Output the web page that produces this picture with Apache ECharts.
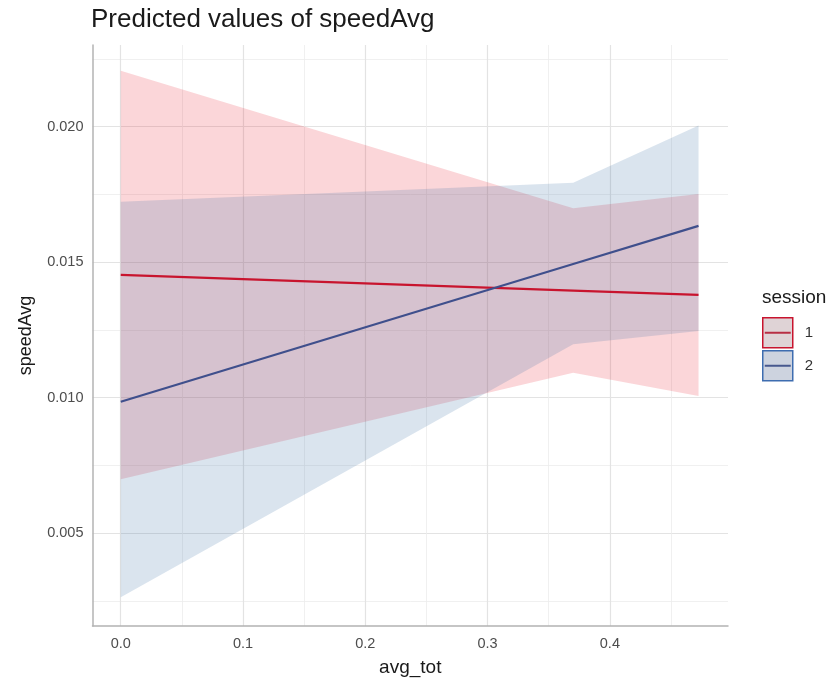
<!DOCTYPE html>
<html>
<head>
<meta charset="utf-8">
<script src="https://cdn.jsdelivr.net/npm/echarts@6/dist/echarts.min.js"></script>
<style>
  html, body { margin: 0; padding: 0; background: #fff; }
  #chart { width: 839px; height: 684px; }
</style>
</head>
<body>
<div id="chart"></div>
<script>
// predicted values
const avgTot = [0, 0.37, 0.4725];
const fit1 = [0.01453, 0.01395, 0.01379];
const low1 = [0.00699, 0.01092, 0.01006];
const high1 = [0.02206, 0.01699, 0.01751];
const fit2 = [0.00985, 0.01493, 0.01634];
const low2 = [0.00264, 0.01197, 0.01246];
const high2 = [0.01723, 0.01793, 0.02004];

// ticks
const xTicks = [0, 0.1, 0.2, 0.3, 0.4];
const xMinor = [0.05, 0.15, 0.25, 0.35, 0.45];
const yTicks = [0.005, 0.01, 0.015, 0.02];
const yMinor = [0.0025, 0.0075, 0.0125, 0.0175, 0.0225];

const red = "#C8142E";
const blue = "#3F4F8C";
const font = "'Liberation Sans', Arial, sans-serif";

const myChart = echarts.init(document.getElementById("chart"));

// confidence band as one polygon
function band(name, lo, hi, fill) {
  return {
    name: name,
    type: "custom",
    data: avgTot.map((x, i) => [x, lo[i], hi[i]]),
    encode: { x: 0, y: [1, 2] },
    silent: true,
    renderItem: (params, api) => {
      if (params.dataIndex !== 0) return;
      const n = avgTot.length;
      const pts = [];
      for (let i = 0; i < n; i++) pts.push(api.coord([api.value(0, i), api.value(2, i)]));
      for (let i = n - 1; i >= 0; i--) pts.push(api.coord([api.value(0, i), api.value(1, i)]));
      return { type: "polygon", shape: { points: pts }, style: { fill: fill } };
    },
  };
}

function fitLine(name, ys, color) {
  return {
    name: name,
    type: "line",
    data: avgTot.map((x, i) => [x, ys[i]]),
    symbol: "rect",
    showSymbol: false,
    lineStyle: { color: color, width: 2.2 },
    itemStyle: { color: color },
    z: 3,
  };
}

const option = {
  animation: false,
  backgroundColor: "#fff",
  title: [
    {
      text: "Predicted values of speedAvg",
      left: 91,
      top: 7,
      padding: 0,
      textStyle: { fontFamily: font, fontSize: 26, fontWeight: "normal", color: "#1a1a1a" },
    },
    {
      text: "session",
      left: 762,
      top: 288,
      padding: 0,
      textStyle: { fontFamily: font, fontSize: 19, fontWeight: "normal", color: "#1a1a1a" },
    },
  ],
  legend: {
    orient: "vertical",
    left: 757,
    top: 312,
    itemWidth: 26,
    itemHeight: 37.5,
    itemGap: 1.5,
    textStyle: { fontFamily: font, fontSize: 15, color: "#333", padding: [0, 0, 0, 9] },
    data: [
      { name: "1", itemStyle: { color: "rgba(150,110,118,0.3)", borderColor: red, borderWidth: 1.5 } },
      { name: "2", itemStyle: { color: "rgba(90,110,150,0.3)", borderColor: "#3E6DB0", borderWidth: 1.5 } },
    ],
  },
  grid: { left: 92.5, right: 111, top: 45, bottom: 58 },
  xAxis: [
    {
      type: "value",
      min: -0.0231,
      max: 0.4966,
      name: "avg_tot",
      nameLocation: "middle",
      nameGap: 32,
      nameTextStyle: { fontFamily: font, fontSize: 19, color: "#1a1a1a" },
      axisLine: { show: true, onZero: false, lineStyle: { color: "#b3b3b3", width: 1.5 } },
      axisTick: { show: false, customValues: xTicks },
      axisLabel: {
        customValues: xTicks,
        margin: 10,
        fontFamily: font,
        fontSize: 14.5,
        color: "#4d4d4d",
        formatter: (v) => v.toFixed(1),
      },
      splitLine: { show: true, lineStyle: { color: "#e3e3e3", width: 1.2 } },
    },
    {
      type: "value",
      min: -0.0231,
      max: 0.4966,
      position: "bottom",
      axisLine: { show: false },
      axisTick: { show: false, customValues: xMinor },
      axisLabel: { show: false },
      splitLine: { show: true, lineStyle: { color: "#ececec", width: 0.8 } },
    },
  ],
  yAxis: [
    {
      type: "value",
      min: 0.00158,
      max: 0.02301,
      name: "speedAvg",
      nameLocation: "middle",
      nameGap: 57,
      nameTextStyle: { fontFamily: font, fontSize: 18, color: "#1a1a1a" },
      axisLine: { show: true, onZero: false, lineStyle: { color: "#b3b3b3", width: 1.5 } },
      axisTick: { show: false, customValues: yTicks },
      axisLabel: {
        customValues: yTicks,
        margin: 9,
        fontFamily: font,
        fontSize: 14.5,
        color: "#4d4d4d",
        formatter: (v) => v.toFixed(3),
      },
      splitLine: { show: true, lineStyle: { color: "#e3e3e3", width: 1.2 } },
    },
    {
      type: "value",
      min: 0.00158,
      max: 0.02301,
      position: "left",
      axisLine: { show: false },
      axisTick: { show: false, customValues: yMinor },
      axisLabel: { show: false },
      splitLine: { show: true, lineStyle: { color: "#ececec", width: 0.8 } },
    },
  ],
  series: [
    band("ci1", low1, high1, "rgba(232,25,44,0.18)"),
    band("ci2", low2, high2, "rgba(61,111,166,0.19)"),
    fitLine("1", fit1, red),
    fitLine("2", fit2, blue),
  ],
};
myChart.setOption(option);
</script>
</body>
</html>
